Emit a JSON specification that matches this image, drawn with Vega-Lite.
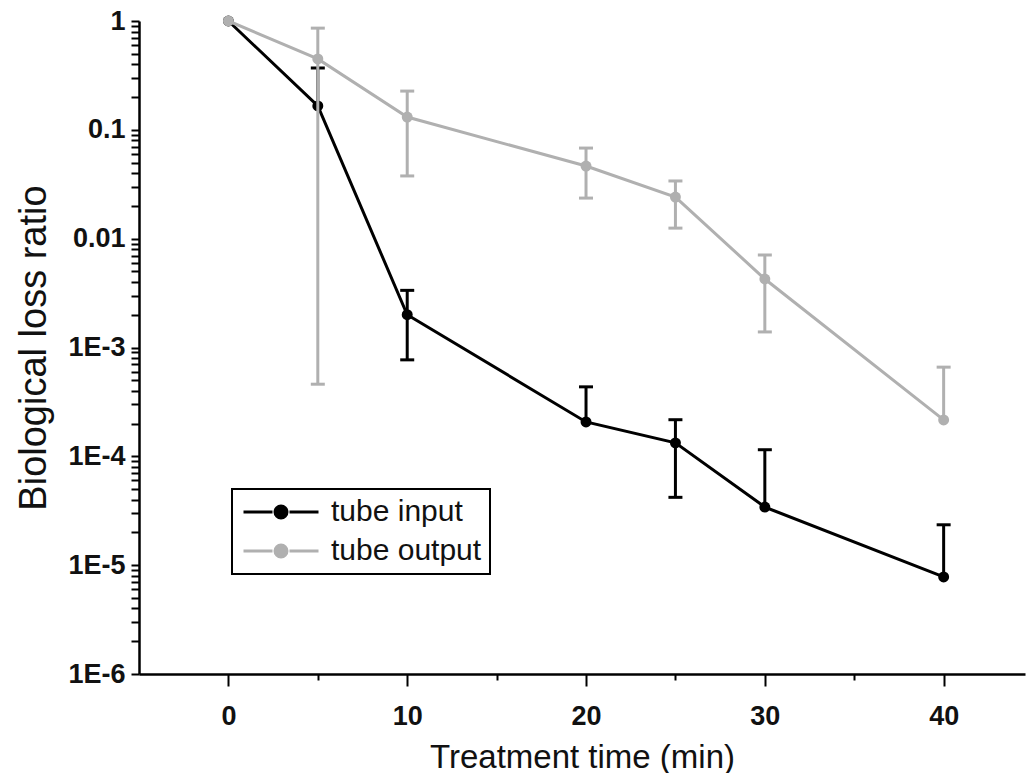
{
  "$schema": "https://vega.github.io/schema/vega-lite/v6.json",
  "width": 886,
  "height": 653,
  "autosize": {"type": "none"},
  "padding": {"left": 139, "top": 21, "right": 4, "bottom": 99},
  "background": "white",
  "config": {
    "view": {"stroke": null},
    "font": "Liberation Sans",
    "legend": {
      "orient": "none",
      "legendX": 93,
      "legendY": 468,
      "strokeColor": "#000000",
      "strokeWidth": 2,
      "padding": 8,
      "rowPadding": 9,
      "labelFontSize": 30,
      "labelFont": "Liberation Sans",
      "labelColor": "#111111",
      "labelOffset": 61,
      "symbolSize": 400,
      "symbolStrokeWidth": 3,
      "symbolType": "M-1.15,0H1.75M3.45,0H6.35M2.0,0A0.6,0.6,0,1,1,3.2,0A0.6,0.6,0,1,1,2.0,0Z"
    }
  },
  "datasets": {
    "points": [
      {"series": "tube input", "time": 0, "ratio": 1},
      {"series": "tube input", "time": 5, "ratio": 0.166},
      {"series": "tube input", "time": 10, "ratio": 0.0020},
      {"series": "tube input", "time": 20, "ratio": 0.000207},
      {"series": "tube input", "time": 25, "ratio": 0.000133},
      {"series": "tube input", "time": 30, "ratio": 0.0000342},
      {"series": "tube input", "time": 40, "ratio": 0.0000078},
      {"series": "tube output", "time": 0, "ratio": 1},
      {"series": "tube output", "time": 5, "ratio": 0.448},
      {"series": "tube output", "time": 10, "ratio": 0.131},
      {"series": "tube output", "time": 20, "ratio": 0.0465},
      {"series": "tube output", "time": 25, "ratio": 0.0241},
      {"series": "tube output", "time": 30, "ratio": 0.00426},
      {"series": "tube output", "time": 40, "ratio": 0.000216}
    ],
    "bars": [
      {"series": "tube input", "time": 5, "ratio": 0.166, "hi": 0.37},
      {"series": "tube input", "time": 10, "ratio": 0.00077, "hi": 0.00335},
      {"series": "tube input", "time": 20, "ratio": 0.000207, "hi": 0.000435},
      {"series": "tube input", "time": 25, "ratio": 0.000042, "hi": 0.000217},
      {"series": "tube input", "time": 30, "ratio": 0.0000342, "hi": 0.000115},
      {"series": "tube input", "time": 40, "ratio": 0.0000078, "hi": 0.0000235},
      {"series": "tube output", "time": 5, "ratio": 0.00046, "hi": 0.86},
      {"series": "tube output", "time": 10, "ratio": 0.0377, "hi": 0.227},
      {"series": "tube output", "time": 20, "ratio": 0.0236, "hi": 0.068},
      {"series": "tube output", "time": 25, "ratio": 0.0125, "hi": 0.0339},
      {"series": "tube output", "time": 30, "ratio": 0.00139, "hi": 0.00708},
      {"series": "tube output", "time": 40, "ratio": 0.000216, "hi": 0.00066}
    ],
    "caps": [
      {"series": "tube input", "time": 5, "ratio": 0.37},
      {"series": "tube input", "time": 10, "ratio": 0.00335},
      {"series": "tube input", "time": 10, "ratio": 0.00077},
      {"series": "tube input", "time": 20, "ratio": 0.000435},
      {"series": "tube input", "time": 25, "ratio": 0.000217},
      {"series": "tube input", "time": 25, "ratio": 0.000042},
      {"series": "tube input", "time": 30, "ratio": 0.000115},
      {"series": "tube input", "time": 40, "ratio": 0.0000235},
      {"series": "tube output", "time": 5, "ratio": 0.86},
      {"series": "tube output", "time": 5, "ratio": 0.00046},
      {"series": "tube output", "time": 10, "ratio": 0.227},
      {"series": "tube output", "time": 10, "ratio": 0.0377},
      {"series": "tube output", "time": 20, "ratio": 0.068},
      {"series": "tube output", "time": 20, "ratio": 0.0236},
      {"series": "tube output", "time": 25, "ratio": 0.0339},
      {"series": "tube output", "time": 25, "ratio": 0.0125},
      {"series": "tube output", "time": 30, "ratio": 0.00708},
      {"series": "tube output", "time": 30, "ratio": 0.00139},
      {"series": "tube output", "time": 40, "ratio": 0.00066}
    ]
  },
  "encoding": {
    "x": {
      "field": "time",
      "type": "quantitative",
      "scale": {"domain": [-5, 44.55], "nice": false, "zero": false},
      "axis": {
        "title": "Treatment time (min)",
        "titleFont": "Liberation Sans",
        "titleFontSize": 33,
        "titleFontWeight": "normal",
        "titleColor": "#111111",
        "titleBaseline": "middle",
        "titleY": 83,
        "grid": false,
        "domainColor": "#000000",
        "domainWidth": 2.5,
        "values": [0, 5, 10, 15, 20, 25, 30, 35, 40],
        "labelExpr": "datum.value % 10 == 0 ? datum.label : ''",
        "labelFont": "Liberation Sans",
        "labelColor": "#111111",
        "labelFontSize": 27,
        "labelFontWeight": "bold",
        "labelPadding": 17,
        "labelOverlap": false,
        "tickColor": "#000000",
        "tickWidth": 2,
        "tickSize": {"condition": {"test": "datum.value % 10 == 0", "value": 12}, "value": 6}
      }
    },
    "y": {
      "field": "ratio",
      "type": "quantitative",
      "scale": {"type": "log", "domain": [0.000001, 1]},
      "axis": {
        "title": "Biological loss ratio",
        "titleFont": "Liberation Sans",
        "titleFontSize": 38,
        "titleFontWeight": "normal",
        "titleColor": "#111111",
        "titlePadding": 14,
        "grid": true,
        "gridOpacity": 0,
        "domainColor": "#000000",
        "domainWidth": 2.5,
        "ticks": true,
        "values": [0.000001, 0.000002, 0.000003, 0.000004, 0.000005, 0.000006, 0.000007, 0.000008, 0.000009,
                   0.00001, 0.00002, 0.00003, 0.00004, 0.00005, 0.00006, 0.00007, 0.00008, 0.00009,
                   0.0001, 0.0002, 0.0003, 0.0004, 0.0005, 0.0006, 0.0007, 0.0008, 0.0009,
                   0.001, 0.002, 0.003, 0.004, 0.005, 0.006, 0.007, 0.008, 0.009,
                   0.01, 0.02, 0.03, 0.04, 0.05, 0.06, 0.07, 0.08, 0.09,
                   0.1, 0.2, 0.3, 0.4, 0.5, 0.6, 0.7, 0.8, 0.9, 1],
        "labelExpr": "abs(log(datum.value)/LN10 - round(log(datum.value)/LN10)) > 0.001 ? '' : abs(datum.value - 1) < 1e-9 ? '1' : abs(datum.value - 0.1) < 1e-9 ? '0.1' : abs(datum.value - 0.01) < 1e-9 ? '0.01' : '1E' + round(log(datum.value)/LN10)",
        "labelFont": "Liberation Sans",
        "labelColor": "#111111",
        "labelFontSize": 27,
        "labelFontWeight": "bold",
        "labelPadding": 6,
        "tickColor": "#000000",
        "tickWidth": 2,
        "tickSize": 8
      }
    },
    "color": {
      "field": "series",
      "type": "nominal",
      "scale": {"domain": ["tube input", "tube output"], "range": ["#000000", "#b0b0b0"]},
      "legend": {
        "title": null,
        "encode": {
          "symbols": {
            "update": {
              "fill": {"scale": "color", "field": "value"},
              "stroke": {"scale": "color", "field": "value"},
              "opacity": {"value": 1}
            }
          }
        }
      }
    }
  },
  "layer": [
    {
      "data": {"name": "points"},
      "transform": [{"filter": "datum.series == 'tube input'"}],
      "mark": {"type": "line", "strokeWidth": 3}
    },
    {
      "data": {"name": "bars"},
      "transform": [{"filter": "datum.series == 'tube input'"}],
      "mark": {"type": "rule", "strokeWidth": 3},
      "encoding": {"y2": {"field": "hi"}}
    },
    {
      "data": {"name": "caps"},
      "transform": [{"filter": "datum.series == 'tube input'"}],
      "mark": {"type": "tick", "orient": "horizontal", "size": 14, "thickness": 3, "opacity": 1}
    },
    {
      "data": {"name": "points"},
      "transform": [{"filter": "datum.series == 'tube input'"}],
      "mark": {"type": "point", "filled": true, "size": 120, "opacity": 1}
    },
    {
      "data": {"name": "points"},
      "transform": [{"filter": "datum.series == 'tube output'"}],
      "mark": {"type": "line", "strokeWidth": 3}
    },
    {
      "data": {"name": "bars"},
      "transform": [{"filter": "datum.series == 'tube output'"}],
      "mark": {"type": "rule", "strokeWidth": 3},
      "encoding": {"y2": {"field": "hi"}}
    },
    {
      "data": {"name": "caps"},
      "transform": [{"filter": "datum.series == 'tube output'"}],
      "mark": {"type": "tick", "orient": "horizontal", "size": 14, "thickness": 3, "opacity": 1}
    },
    {
      "data": {"name": "points"},
      "transform": [{"filter": "datum.series == 'tube output'"}],
      "mark": {"type": "point", "filled": true, "size": 120, "opacity": 1}
    }
  ]
}
